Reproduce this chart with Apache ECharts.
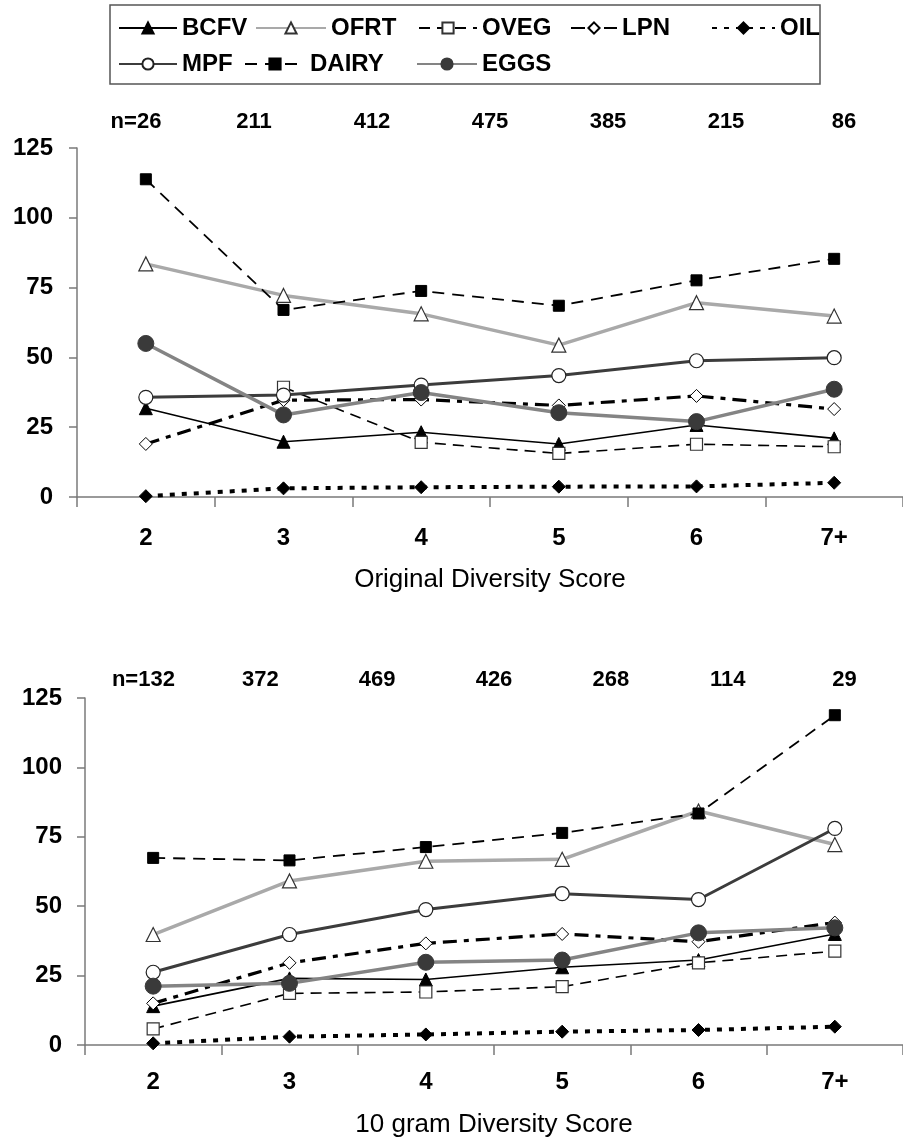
<!DOCTYPE html>
<html>
<head>
<meta charset="utf-8">
<script src="https://cdn.jsdelivr.net/npm/echarts@6/dist/echarts.min.js"></script>
<style>
html,body{margin:0;padding:0;background:#fff;}
#chart{width:903px;height:1145px;}
</style>
</head>
<body>
<div id="chart"></div>
<script>
// ---------- DATA ----------
var categories = ['2', '3', '4', '5', '6', '7+'];
var nTop = ['n=26', '211', '412', '475', '385', '215', '86'];
var nBottom = ['n=132', '372', '469', '426', '268', '114', '29'];
var seriesNames = ['BCFV', 'OFRT', 'OVEG', 'LPN', 'OIL', 'MPF', 'DAIRY', 'EGGS'];

// Original Diversity Score (top chart)
var topBCFV  = [31.8, 19.8, 23.2, 19.0, 25.8, 21.0];
var topOFRT  = [83.5, 72.2, 65.6, 54.4, 69.6, 64.8];
var topOVEG  = [null, 39.3, 19.6, 15.6, 18.9, 18.0];
var topLPN   = [19.0, 34.7, 34.9, 32.8, 36.2, 31.5];
var topOIL   = [0.3, 3.1, 3.5, 3.7, 3.8, 5.1];
var topMPF   = [35.7, 36.5, 40.1, 43.5, 48.8, 49.9];
var topDAIRY = [113.8, 67.0, 73.8, 68.5, 77.6, 85.3];
var topEGGS  = [55.0, 29.4, 37.4, 30.2, 27.0, 38.6];

// 10 gram Diversity Score (bottom chart)
var botBCFV  = [14.0, 24.0, 23.6, 28.0, 30.6, 40.0];
var botOFRT  = [39.8, 59.1, 66.2, 66.9, 84.3, 72.2];
var botOVEG  = [5.8, 18.6, 19.1, 21.0, 29.6, 33.8];
var botLPN   = [15.0, 29.6, 36.6, 40.0, 37.2, 44.1];
var botOIL   = [0.6, 3.0, 3.8, 4.8, 5.4, 6.6];
var botMPF   = [26.2, 39.8, 48.8, 54.5, 52.4, 78.0];
var botDAIRY = [67.4, 66.5, 71.3, 76.4, 83.4, 118.8];
var botEGGS  = [21.2, 22.2, 29.8, 30.6, 40.4, 42.2];

var yTicks = {min: 0, max: 125, interval: 25};

// ---------- STYLES ----------
var FONT = 'Liberation Sans, Arial, Helvetica, sans-serif';
var styles = {
  BCFV:  {symbol: 'triangle', symbolSize: 13, itemStyle: {color: '#000', borderColor: '#000', borderWidth: 1}, lineStyle: {color: '#000', width: 1.6, type: 'solid'}},
  OFRT:  {symbol: 'triangle', symbolSize: 14, itemStyle: {color: '#fff', borderColor: '#333', borderWidth: 1.2}, lineStyle: {color: '#a9a9a9', width: 3.5, type: 'solid'}},
  OVEG:  {symbol: 'rect', symbolSize: 12, itemStyle: {color: '#fff', borderColor: '#333', borderWidth: 1.2}, lineStyle: {color: '#000', width: 1.6, type: [11, 7]}},
  LPN:   {symbol: 'diamond', symbolSize: 13, itemStyle: {color: '#fff', borderColor: '#000', borderWidth: 1}, lineStyle: {color: '#000', width: 3.2, type: [14, 7, 5, 7]}},
  OIL:   {symbol: 'diamond', symbolSize: 13, itemStyle: {color: '#000', borderColor: '#000', borderWidth: 1}, lineStyle: {color: '#000', width: 4, type: [5, 7]}},
  MPF:   {symbol: 'circle', symbolSize: 14, itemStyle: {color: '#fff', borderColor: '#222', borderWidth: 1.2}, lineStyle: {color: '#3c3c3c', width: 3, type: 'solid'}},
  DAIRY: {symbol: 'rect', symbolSize: 11, itemStyle: {color: '#000', borderColor: '#000', borderWidth: 1}, lineStyle: {color: '#000', width: 1.8, type: [12, 8]}},
  EGGS:  {symbol: 'circle', symbolSize: 16, itemStyle: {color: '#3a3a3a', borderColor: '#3a3a3a', borderWidth: 1}, lineStyle: {color: '#848484', width: 3.5, type: 'solid'}}
};

var topData = {BCFV: topBCFV, OFRT: topOFRT, OVEG: topOVEG, LPN: topLPN, OIL: topOIL, MPF: topMPF, DAIRY: topDAIRY, EGGS: topEGGS};
var botData = {BCFV: botBCFV, OFRT: botOFRT, OVEG: botOVEG, LPN: botLPN, OIL: botOIL, MPF: botMPF, DAIRY: botDAIRY, EGGS: botEGGS};

function makeSeries(dataMap, axisIdx) {
  return seriesNames.map(function (name) {
    var s = styles[name];
    return {
      name: name,
      type: 'line',
      xAxisIndex: axisIdx.x,
      yAxisIndex: axisIdx.y,
      data: dataMap[name],
      symbol: s.symbol,
      symbolSize: s.symbolSize,
      showAllSymbol: true,
      connectNulls: false,
      itemStyle: s.itemStyle,
      lineStyle: s.lineStyle,
      emphasis: {disabled: true}
    };
  });
}

// legend layout (one legend per item)
var legendLayout = [
  {name: 'BCFV',  left: 118, top: 16, itemWidth: 58},
  {name: 'OFRT',  left: 255, top: 16, itemWidth: 70},
  {name: 'OVEG',  left: 418, top: 16, itemWidth: 58},
  {name: 'LPN',   left: 570, top: 16, itemWidth: 46},
  {name: 'OIL',   left: 711, top: 16, itemWidth: 63},
  {name: 'MPF',   left: 118, top: 52, itemWidth: 58},
  {name: 'DAIRY', left: 244, top: 52, itemWidth: 60},
  {name: 'EGGS',  left: 416, top: 52, itemWidth: 60}
];
var legends = legendLayout.map(function (l) {
  return {
    data: [l.name],
    left: l.left,
    top: l.top,
    padding: 0,
    itemWidth: l.itemWidth,
    itemHeight: 14,
    selectedMode: false,
    textStyle: {fontFamily: FONT, fontSize: 24, fontWeight: 'bold', color: '#000'}
  };
});

function catAxis(gridIndex, name, labelMargin, nameGap) {
  return {
    gridIndex: gridIndex,
    type: 'category',
    data: categories,
    boundaryGap: true,
    position: 'bottom',
    axisLine: {show: true, onZero: false, lineStyle: {color: '#7a7a7a', width: 1.5}},
    axisTick: {show: true, length: 10, lineStyle: {color: '#7a7a7a', width: 1.5}},
    axisLabel: {fontFamily: FONT, fontSize: 24, fontWeight: 'bold', color: '#000', margin: labelMargin},
    splitLine: {show: false},
    name: name,
    nameLocation: 'middle',
    nameGap: nameGap,
    nameTextStyle: {fontFamily: FONT, fontSize: 26, color: '#000'}
  };
}
function nAxis(gridIndex, labels, margin) {
  return {
    gridIndex: gridIndex,
    type: 'category',
    data: labels,
    position: 'top',
    boundaryGap: true,
    axisLine: {show: false},
    axisTick: {show: false},
    axisLabel: {fontFamily: FONT, fontSize: 22, fontWeight: 'bold', color: '#000', margin: margin, interval: 0},
    splitLine: {show: false}
  };
}
function valAxis(gridIndex, margin) {
  return {
    gridIndex: gridIndex,
    type: 'value',
    min: yTicks.min,
    max: yTicks.max,
    interval: yTicks.interval,
    axisLine: {show: true, lineStyle: {color: '#7a7a7a', width: 1.5}},
    axisTick: {show: true, length: 8, lineStyle: {color: '#7a7a7a', width: 1.5}},
    axisLabel: {fontFamily: FONT, fontSize: 24, fontWeight: 'bold', color: '#000', margin: margin},
    splitLine: {show: false}
  };
}

var option = {
  animation: false,
  backgroundColor: '#fff',
  legend: legends,
  graphic: [{
    type: 'rect',
    shape: {x: 110, y: 5, width: 710, height: 79},
    style: {fill: 'none', stroke: '#555', lineWidth: 1.5},
    silent: true
  }],
  grid: [
    {left: 77, top: 148, width: 831, height: 349, containLabel: false},
    {left: 85, top: 698, width: 824, height: 347, containLabel: false}
  ],
  xAxis: [
    catAxis(0, 'Original Diversity Score', 29, 70),
    nAxis(0, nTop, 15),
    catAxis(1, '10 gram Diversity Score', 25, 67),
    nAxis(1, nBottom, 7)
  ],
  yAxis: [valAxis(0, 24), valAxis(1, 23)],
  series: makeSeries(topData, {x: 0, y: 0}).concat(makeSeries(botData, {x: 2, y: 1}))
};

var chart = echarts.init(document.getElementById('chart'), null, {renderer: 'canvas'});
chart.setOption(option);
</script>
</body>
</html>
